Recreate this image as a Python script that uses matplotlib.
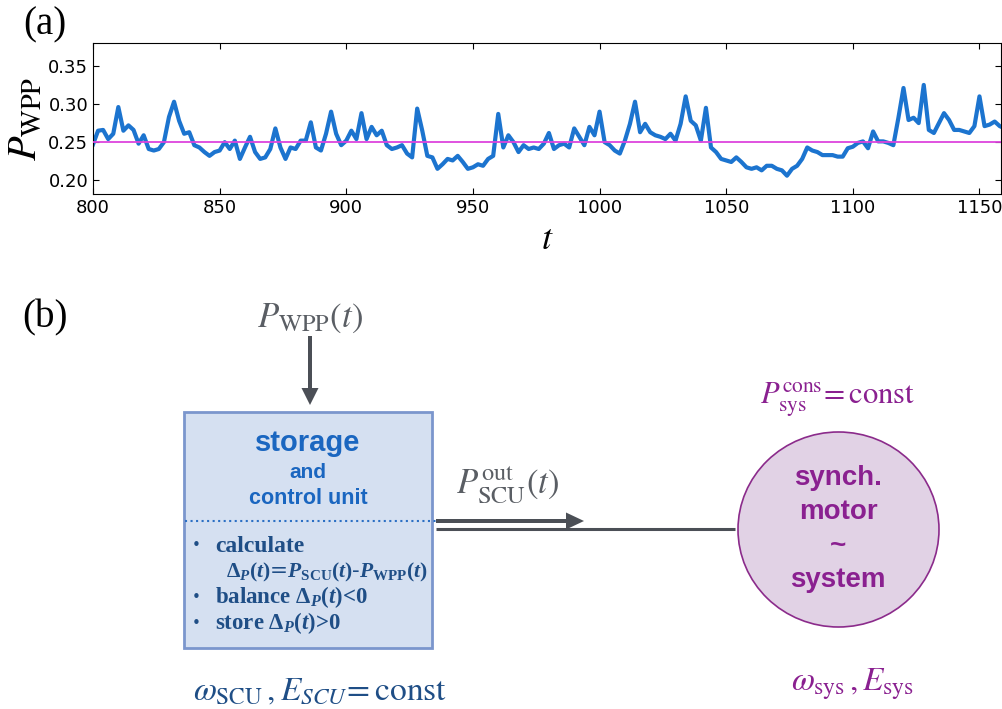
import numpy as np
import matplotlib.pyplot as plt
from matplotlib.patches import Rectangle, Ellipse

plt.rcParams['mathtext.fontset'] = 'custom'
plt.rcParams['mathtext.rm'] = 'Liberation Serif:bold'
plt.rcParams['mathtext.it'] = 'Liberation Serif:italic:bold'
plt.rcParams['mathtext.bf'] = 'Liberation Serif:bold'

# time series P_WPP(t), every 2 time units
t = np.arange(800, 1161, 2)
p_wpp = [0.247, 0.265, 0.266, 0.254, 0.261, 0.296, 0.265, 0.272, 0.266, 0.248,
         0.259, 0.241, 0.239, 0.241, 0.250, 0.283, 0.303, 0.278, 0.261, 0.263,
         0.246, 0.243, 0.237, 0.232, 0.237, 0.239, 0.250, 0.241, 0.252, 0.228,
         0.243, 0.257, 0.237, 0.228, 0.230, 0.241, 0.268, 0.243, 0.228, 0.243,
         0.241, 0.252, 0.252, 0.276, 0.243, 0.239, 0.261, 0.290, 0.261, 0.246,
         0.252, 0.265, 0.254, 0.288, 0.254, 0.270, 0.259, 0.265, 0.246, 0.241,
         0.243, 0.246, 0.235, 0.230, 0.294, 0.265, 0.232, 0.230, 0.215, 0.221,
         0.228, 0.226, 0.232, 0.224, 0.215, 0.217, 0.221, 0.219, 0.228, 0.232,
         0.287, 0.243, 0.259, 0.250, 0.237, 0.246, 0.241, 0.243, 0.241, 0.248,
         0.262, 0.241, 0.246, 0.248, 0.243, 0.268, 0.257, 0.246, 0.270, 0.259,
         0.290, 0.250, 0.246, 0.239, 0.235, 0.252, 0.274, 0.303, 0.263, 0.274,
         0.263, 0.259, 0.257, 0.254, 0.261, 0.252, 0.274, 0.310, 0.278, 0.272,
         0.252, 0.295, 0.243, 0.237, 0.228, 0.226, 0.224, 0.230, 0.224, 0.217,
         0.215, 0.217, 0.213, 0.219, 0.219, 0.215, 0.213, 0.206, 0.215, 0.219,
         0.228, 0.243, 0.239, 0.237, 0.233, 0.233, 0.233, 0.231, 0.231, 0.242,
         0.244, 0.249, 0.251, 0.242, 0.264, 0.251, 0.251, 0.249, 0.246, 0.282,
         0.321, 0.279, 0.282, 0.275, 0.325, 0.266, 0.262, 0.275, 0.288, 0.279,
         0.266, 0.266, 0.264, 0.262, 0.271, 0.310, 0.271, 0.273, 0.277, 0.271,
         0.268]
p_const = 0.25
xticks = [800, 850, 900, 950, 1000, 1050, 1100, 1150]
yticks = [0.20, 0.25, 0.30, 0.35]

blue = '#1c74cf'
gray = '#4b4f56'
dblue = '#1f4e86'
purple = '#8a2090'

fig = plt.figure(figsize=(10.02, 7.09), dpi=100)

# (b) diagram, drawn in pixel units on a full-figure axes
d = fig.add_axes([0, 0, 1, 1])
d.set_xlim(0, 1002)
d.set_ylim(709, 0)
d.axis('off')

d.text(45, 318, '(b)', fontsize=28, family='Liberation Serif', ha='center', va='center')
d.text(310, 318, r'$P_{\mathrm{WPP}}(t)$', fontsize=25, color='#5a5e64', ha='center', va='center',
       math_fontfamily='stix')
d.arrow(310, 336, 0, 52, width=4, head_width=17, head_length=17, color=gray, lw=0)

d.add_patch(Rectangle((184, 412), 248, 236, fc='#d5e0f1', ec='#7b96cd', lw=2))
d.text(308, 443, 'storage', fontsize=21, weight='bold', family='Liberation Sans', color='#1a66c0',
       ha='center', va='center')
d.text(308, 473, 'and', fontsize=15, weight='bold', family='Liberation Sans', color='#1a66c0',
       ha='center', va='center')
d.text(308, 498, 'control unit', fontsize=15.5, weight='bold', family='Liberation Sans', color='#1a66c0',
       ha='center', va='center')
d.plot([185, 437], [521, 521], ls=':', color='#2b6fc4', lw=1.5)

for yy in [545, 597, 623]:
    d.text(196, yy, u'\u2022', fontsize=11, color=dblue, ha='center', va='center')
d.text(215, 546, 'calculate', fontsize=17, weight='bold', family='Liberation Serif', color=dblue,
       va='center')
d.text(226, 572, r'$\Delta_{P}(t)$=$P_{\mathrm{SCU}}(t)$-$P_{\mathrm{WPP}}(t)$', fontsize=15.5,
       color=dblue, va='center', math_fontfamily='custom')
d.text(215, 597, r'balance $\Delta_{P}(t)$<0', fontsize=16.5, weight='bold', family='Liberation Serif',
       color=dblue, va='center', math_fontfamily='custom')
d.text(215, 623, r'store $\Delta_{P}(t)$>0', fontsize=16.5, weight='bold', family='Liberation Serif',
       color=dblue, va='center', math_fontfamily='custom')

d.text(320, 690, r'$\omega_{\mathrm{SCU}}\,,E_{SCU}\!= \mathrm{const}$', fontsize=24, color=dblue,
       ha='center', va='center', math_fontfamily='stix')

d.text(508, 485, r'$P_{\mathrm{SCU}}^{\mathrm{out}}(t)$', fontsize=25, color='#5a5e64', ha='center',
       va='center', math_fontfamily='stix')
d.arrow(436, 521, 130, 0, width=4, head_width=17, head_length=18, color=gray, lw=0)
d.plot([436, 735], [529, 529], lw=2.2, color=gray, solid_capstyle='butt')

d.add_patch(Ellipse((838.5, 529.5), 201, 195, fc='#e1d2e5', ec='#8b2b8b', lw=1.2))
d.text(838, 400, r'$P_{\mathrm{sys}}^{\mathrm{cons}}\!= \mathrm{const}$', fontsize=22, color=purple,
       ha='center', va='center', math_fontfamily='stix')
for label, yy in [('synch.', 478), ('motor', 512), ('~', 546), ('system', 580)]:
    d.text(838, yy, label, fontsize=20, weight='bold', family='Liberation Sans', color=purple,
           ha='center', va='center')
d.text(852, 684, r'$\omega_{\mathrm{sys}}\,,E_{\mathrm{sys}}$', fontsize=24, color=purple,
       ha='center', va='center', math_fontfamily='stix')

# (a) time series
ax = fig.add_axes([93 / 1002, 1 - 194 / 709, 908 / 1002, 151 / 709])
ax.plot(t, p_wpp, color=blue, lw=3, zorder=2)
ax.axhline(p_const, color='#dd44dd', lw=1.3, zorder=3)
ax.set_xlim(800, 1158.5)
ax.set_ylim(0.182, 0.380)
ax.set_xticks(xticks)
ax.set_yticks(yticks)
ax.set_yticklabels(['%.2f' % v for v in yticks])
ax.tick_params(direction='in', top=True, right=True, length=4, labelsize=13)
ax.set_xlabel(r'$t$', fontsize=26, math_fontfamily='stix', labelpad=4)
ax.set_ylabel(r'$P_{\mathrm{WPP}}$', fontsize=29, math_fontfamily='stix', labelpad=2)
fig.text(45 / 1002, 1 - 25 / 709, '(a)', fontsize=28, family='Liberation Serif', ha='center', va='center')

fig.savefig('out.png', dpi=100)
